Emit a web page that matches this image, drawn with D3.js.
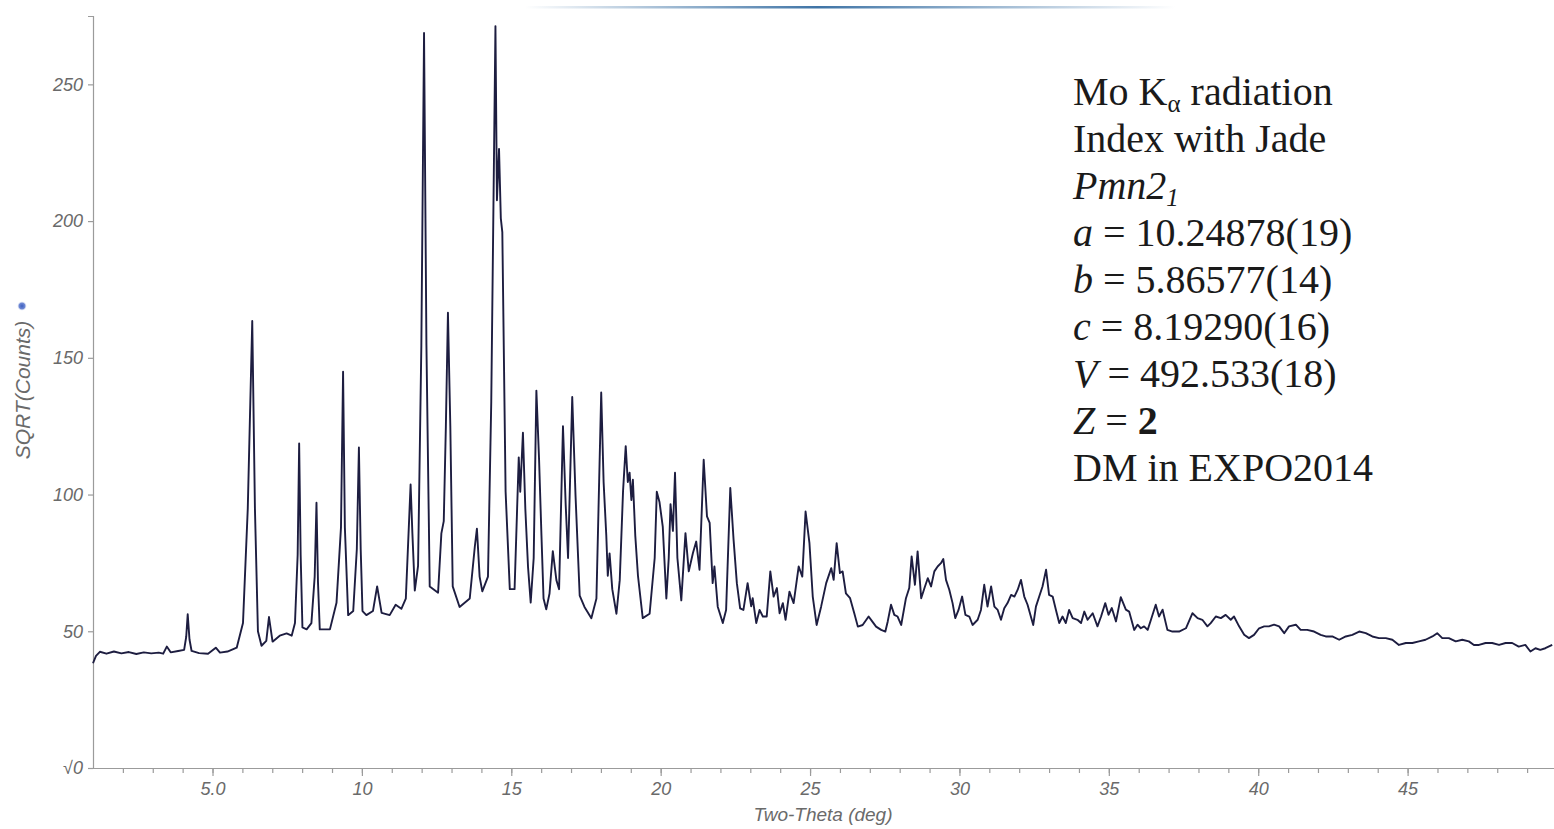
<!DOCTYPE html>
<html>
<head>
<meta charset="utf-8">
<script src="https://cdn.jsdelivr.net/npm/d3@7"></script>
<style>
  body { margin: 0; background: #fff; }
  svg { display: block; }
</style>
</head>
<body>
<div id="mainvis"></div>
<script>
// powder pattern (two-theta in deg, sqrt of counts)
var twoTheta = [
  1.00, 1.10, 1.23, 1.45, 1.70, 1.95, 2.20, 2.45, 2.70, 2.95, 3.20, 3.35, 3.47, 3.60, 3.85, 4.05, 4.12, 4.17, 4.23, 4.30,
  4.55, 4.85, 5.11, 5.25, 5.50, 5.81, 6.02, 6.18, 6.33, 6.42, 6.52, 6.64, 6.80, 6.89, 7.01, 7.25, 7.48, 7.65, 7.76, 7.85,
  7.90, 7.95, 8.01, 8.15, 8.31, 8.42, 8.48, 8.53, 8.59, 8.93, 9.15, 9.30, 9.37, 9.43, 9.54, 9.71, 9.83, 9.90, 9.96, 10.02,
  10.15, 10.37, 10.51, 10.66, 10.93, 11.13, 11.32, 11.47, 11.63, 11.69, 11.77, 11.88, 11.99, 12.08, 12.16, 12.27, 12.55, 12.66, 12.74, 12.81,
  12.88, 12.96, 13.04, 13.27, 13.61, 13.78, 13.85, 13.94, 14.03, 14.22, 14.33, 14.47, 14.52, 14.59, 14.65, 14.70, 14.81, 14.95, 15.11, 15.19,
  15.25, 15.30, 15.39, 15.47, 15.56, 15.65, 15.75, 15.84, 15.93, 16.01, 16.08, 16.17, 16.28, 16.39, 16.51, 16.60, 16.73, 16.82, 16.90, 17.04,
  17.15, 17.29, 17.45, 17.68, 17.85, 18.01, 18.09, 18.18, 18.23, 18.29, 18.38, 18.52, 18.63, 18.74, 18.83, 18.90, 18.96, 19.02, 19.07, 19.15,
  19.24, 19.40, 19.63, 19.80, 19.87, 19.96, 20.07, 20.19, 20.27, 20.33, 20.41, 20.48, 20.56, 20.69, 20.83, 20.94, 21.08, 21.19, 21.30, 21.44,
  21.55, 21.64, 21.74, 21.80, 21.91, 22.08, 22.19, 22.33, 22.44, 22.55, 22.66, 22.77, 22.91, 23.03, 23.08, 23.20, 23.31, 23.42, 23.55, 23.67,
  23.78, 23.89, 23.98, 24.09, 24.18, 24.31, 24.45, 24.62, 24.74, 24.85, 24.98, 25.09, 25.22, 25.37, 25.54, 25.71, 25.79, 25.89, 26.00, 26.09,
  26.20, 26.34, 26.48, 26.60, 26.76, 26.96, 27.08, 27.21, 27.38, 27.52, 27.60, 27.71, 27.82, 27.93, 28.05, 28.21, 28.32, 28.40, 28.51, 28.60,
  28.72, 28.83, 28.94, 29.05, 29.16, 29.27, 29.38, 29.46, 29.55, 29.66, 29.77, 29.86, 29.97, 30.09, 30.20, 30.33, 30.44, 30.61, 30.72, 30.83,
  30.94, 31.06, 31.17, 31.28, 31.39, 31.50, 31.61, 31.73, 31.84, 31.95, 32.06, 32.17, 32.28, 32.39, 32.47, 32.56, 32.67, 32.78, 32.90, 33.00,
  33.12, 33.23, 33.34, 33.45, 33.56, 33.67, 33.79, 33.95, 34.07, 34.18, 34.29, 34.46, 34.62, 34.74, 34.88, 34.99, 35.10, 35.24, 35.40, 35.57,
  35.68, 35.85, 35.96, 36.07, 36.18, 36.30, 36.41, 36.57, 36.68, 36.80, 36.96, 37.13, 37.35, 37.58, 37.80, 37.97, 38.13, 38.30, 38.41, 38.58,
  38.75, 38.91, 39.08, 39.19, 39.36, 39.53, 39.69, 39.86, 40.03, 40.20, 40.36, 40.53, 40.70, 40.87, 41.03, 41.26, 41.42, 41.64, 41.87, 42.09,
  42.26, 42.48, 42.71, 42.93, 43.15, 43.38, 43.60, 43.82, 44.04, 44.27, 44.49, 44.71, 44.94, 45.16, 45.38, 45.60, 45.83, 45.99, 46.16, 46.38,
  46.61, 46.83, 47.05, 47.22, 47.39, 47.61, 47.83, 48.06, 48.28, 48.50, 48.72, 48.94, 49.11, 49.28, 49.44, 49.61, 49.84
];
var sqrtCounts = [
  38.3, 41.0, 42.5, 41.8, 42.6, 41.9, 42.4, 41.7, 42.3, 41.9, 42.2, 41.8, 44.4, 42.3, 42.8, 43.2, 48.0, 56.2, 47.0, 42.8,
  42.0, 41.8, 44.0, 42.2, 42.6, 44.0, 53.0, 94.8, 163.5, 94.8, 50.0, 44.7, 46.5, 55.2, 46.2, 48.4, 49.2, 48.4, 53.0, 78.0,
  118.7, 78.0, 51.4, 50.7, 53.0, 70.0, 97.0, 68.0, 50.7, 50.7, 60.4, 88.0, 144.9, 88.0, 55.9, 57.4, 80.0, 117.2, 80.0, 57.4,
  55.9, 57.4, 66.4, 56.7, 55.9, 59.7, 58.2, 61.9, 103.7, 85.8, 64.9, 73.9, 154.6, 268.8, 154.6, 66.4, 64.1, 85.8, 90.3, 124.7,
  166.5, 124.7, 66.4, 58.9, 62.0, 81.0, 87.5, 70.0, 64.6, 70.0, 134.0, 271.3, 207.6, 226.4, 201.0, 196.0, 101.0, 65.4, 65.4, 93.0,
  113.6, 101.0, 122.6, 94.8, 73.6, 60.5, 76.8, 138.0, 112.8, 85.0, 62.0, 58.0, 63.8, 79.3, 68.7, 65.4, 125.0, 96.5, 76.8, 135.7,
  99.7, 63.0, 58.9, 54.8, 62.0, 137.3, 104.6, 85.0, 70.3, 78.5, 65.4, 56.4, 68.7, 101.0, 117.7, 104.6, 108.0, 98.0, 105.4, 85.0,
  70.3, 54.8, 56.4, 76.8, 101.0, 97.3, 88.3, 62.0, 76.8, 96.5, 86.7, 108.0, 76.8, 61.3, 85.9, 71.9, 78.6, 82.8, 72.5, 112.7,
  92.0, 89.6, 67.6, 73.7, 59.0, 53.0, 57.8, 102.4, 83.5, 67.6, 58.4, 57.8, 67.6, 59.1, 62.1, 53.0, 57.8, 55.4, 55.4, 71.9,
  62.7, 65.8, 56.6, 60.3, 54.2, 64.5, 60.3, 73.7, 70.0, 93.8, 82.2, 62.7, 52.3, 59.0, 67.6, 73.1, 68.8, 82.2, 71.3, 71.9,
  63.9, 62.1, 56.6, 51.7, 52.3, 55.4, 53.6, 51.7, 50.5, 49.9, 53.6, 59.7, 56.0, 55.4, 52.3, 62.1, 65.8, 77.4, 67.0, 79.2,
  62.1, 65.8, 69.4, 66.4, 71.9, 73.7, 74.9, 76.4, 68.8, 65.2, 60.3, 54.8, 57.8, 62.7, 56.0, 55.4, 52.3, 54.2, 57.8, 67.0,
  59.0, 66.4, 59.0, 57.8, 54.2, 58.4, 60.3, 63.3, 62.7, 65.2, 68.8, 62.7, 59.7, 55.4, 52.3, 59.0, 62.7, 66.4, 72.5, 63.3,
  62.7, 57.8, 53.0, 55.4, 53.0, 57.8, 54.8, 54.2, 53.0, 57.2, 54.2, 56.6, 51.8, 55.4, 60.3, 56.0, 58.5, 53.6, 62.5, 57.9,
  57.2, 50.5, 52.4, 51.1, 51.8, 50.5, 54.2, 59.7, 55.4, 57.9, 50.5, 49.9, 49.9, 51.1, 56.6, 54.8, 54.2, 51.8, 53.0, 55.4,
  54.8, 56.0, 54.2, 55.4, 51.8, 48.7, 47.5, 48.7, 51.1, 51.8, 51.8, 52.4, 51.8, 49.3, 51.8, 52.4, 50.5, 50.5, 49.9, 48.7,
  48.1, 48.1, 46.9, 48.1, 48.7, 49.9, 49.3, 48.1, 47.5, 47.5, 46.9, 45.0, 45.7, 45.7, 46.3, 46.9, 48.1, 49.3, 47.5, 47.5,
  46.3, 46.9, 46.3, 45.0, 45.0, 45.7, 45.7, 45.0, 45.7, 45.7, 44.4, 45.0, 42.6, 43.8, 43.2, 43.8, 45.0
];
var yTicks = [0, 50, 100, 150, 200, 250];
var xMajorTicks = [5, 10, 15, 20, 25, 30, 35, 40, 45];
var xMinorTicks = d3.range(2, 50);

var width = 1554, height = 829;
var plotLeft = 93, plotRight = 1554, plotTop = 16, plotBottom = 768;

var mainSVG = d3.select("#mainvis").append("svg")
  .attr("width", width)
  .attr("height", height);

var x = d3.scaleLinear().domain([1, 49.9]).range([plotLeft, plotRight]);
var y = d3.scaleLinear().domain([0, 275]).range([plotBottom, plotTop]);

var axisColor = "#9b9b9b";
var labelColor = "#6a6a6a";

// title underline, the title itself is cut off at the top of the picture
var defs = mainSVG.append("defs");
var grad = defs.append("linearGradient").attr("id", "uline");
grad.append("stop").attr("offset", "0%").attr("stop-color", "#ffffff");
grad.append("stop").attr("offset", "45%").attr("stop-color", "#3f74a6");
grad.append("stop").attr("offset", "100%").attr("stop-color", "#ffffff");
mainSVG.append("rect")
  .attr("x", 525).attr("y", 6).attr("width", 650).attr("height", 2.5)
  .attr("fill", "url(#uline)");

// y axis
var yAxis = d3.axisLeft(y)
  .tickValues(yTicks)
  .tickSize(5)
  .tickSizeOuter(5)
  .tickPadding(5)
  .tickFormat(function(d) { return d === 0 ? "\u221A0" : d; });
mainSVG.append("g")
  .attr("transform", "translate(" + plotLeft + ",0)")
  .call(yAxis);

// x axis, minor ticks first then labelled ones
var xMinor = d3.axisBottom(x).tickValues(xMinorTicks).tickSize(5).tickSizeOuter(0).tickFormat("");
mainSVG.append("g")
  .attr("transform", "translate(0," + plotBottom + ")")
  .call(xMinor);
var xAxis = d3.axisBottom(x)
  .tickValues(xMajorTicks)
  .tickSize(8)
  .tickSizeOuter(0)
  .tickPadding(6)
  .tickFormat(function(d) { return d === 5 ? "5.0" : d; });
mainSVG.append("g")
  .attr("transform", "translate(0," + plotBottom + ")")
  .call(xAxis);

mainSVG.selectAll(".domain, .tick line")
  .attr("stroke", axisColor)
  .attr("stroke-width", 1.2);
mainSVG.selectAll(".tick text")
  .attr("fill", labelColor)
  .attr("font-family", "Liberation Sans, Arial, sans-serif")
  .attr("font-style", "italic")
  .attr("font-size", "18px");

// axis titles
mainSVG.append("text")
  .attr("x", 823).attr("y", 821)
  .attr("text-anchor", "middle")
  .attr("font-family", "Liberation Sans, Arial, sans-serif")
  .attr("font-style", "italic")
  .attr("font-size", "19px")
  .attr("fill", labelColor)
  .text("Two-Theta (deg)");

mainSVG.append("text")
  .attr("transform", "translate(30,390) rotate(-90)")
  .attr("text-anchor", "middle")
  .attr("font-family", "Liberation Sans, Arial, sans-serif")
  .attr("font-style", "italic")
  .attr("font-size", "21px")
  .attr("fill", labelColor)
  .text("SQRT(Counts)");

var dot = defs.append("radialGradient").attr("id", "dotg");
dot.append("stop").attr("offset", "0%").attr("stop-color", "#3d5fc0");
dot.append("stop").attr("offset", "60%").attr("stop-color", "#6f89d4");
dot.append("stop").attr("offset", "100%").attr("stop-color", "#ffffff").attr("stop-opacity", 0);
mainSVG.append("circle")
  .attr("cx", 22).attr("cy", 306).attr("r", 5)
  .attr("fill", "url(#dotg)");

// the pattern
var pts = twoTheta.map(function(t, i) { return [t, sqrtCounts[i]]; });
var line = d3.line()
  .x(function(d) { return x(d[0]); })
  .y(function(d) { return y(d[1]); });
mainSVG.append("path")
  .datum(pts)
  .attr("d", line)
  .attr("fill", "none")
  .attr("stroke", "#1d1d40")
  .attr("stroke-width", 1.9)
  .attr("stroke-linejoin", "round");

// cell annotation
var notes = [
  [["Mo K", ""], ["\u03B1", "sub"], [" radiation", ""]],
  [["Index with Jade", ""]],
  [["Pmn2", "i"], ["1", "isub"]],
  [["a", "i"], [" = 10.24878(19)", ""]],
  [["b", "i"], [" = 5.86577(14)", ""]],
  [["c", "i"], [" = 8.19290(16)", ""]],
  [["V", "i"], [" = 492.533(18)", ""]],
  [["Z", "i"], [" = ", ""], ["2", "b"]],
  [["DM in EXPO2014", ""]]
];
var noteG = mainSVG.append("g")
  .attr("font-family", "Liberation Serif, Times New Roman, serif")
  .attr("font-size", "40px")
  .attr("fill", "#1a1a1a");
notes.forEach(function(parts, i) {
  var t = noteG.append("text")
    .attr("x", 1073)
    .attr("y", 105 + i * 47);
  var shifted = 0;
  parts.forEach(function(p) {
    var s = t.append("tspan").text(p[0]);
    if (p[1] === "sub" || p[1] === "isub") {
      s.attr("dy", 7).attr("font-size", "25px");
      shifted = 7;
      if (p[1] === "isub") s.attr("font-style", "italic");
    } else {
      if (shifted) { s.attr("dy", -shifted); shifted = 0; }
      if (p[1] === "i") s.attr("font-style", "italic");
      if (p[1] === "b") s.attr("font-weight", "bold");
    }
  });
});
</script>
</body>
</html>
